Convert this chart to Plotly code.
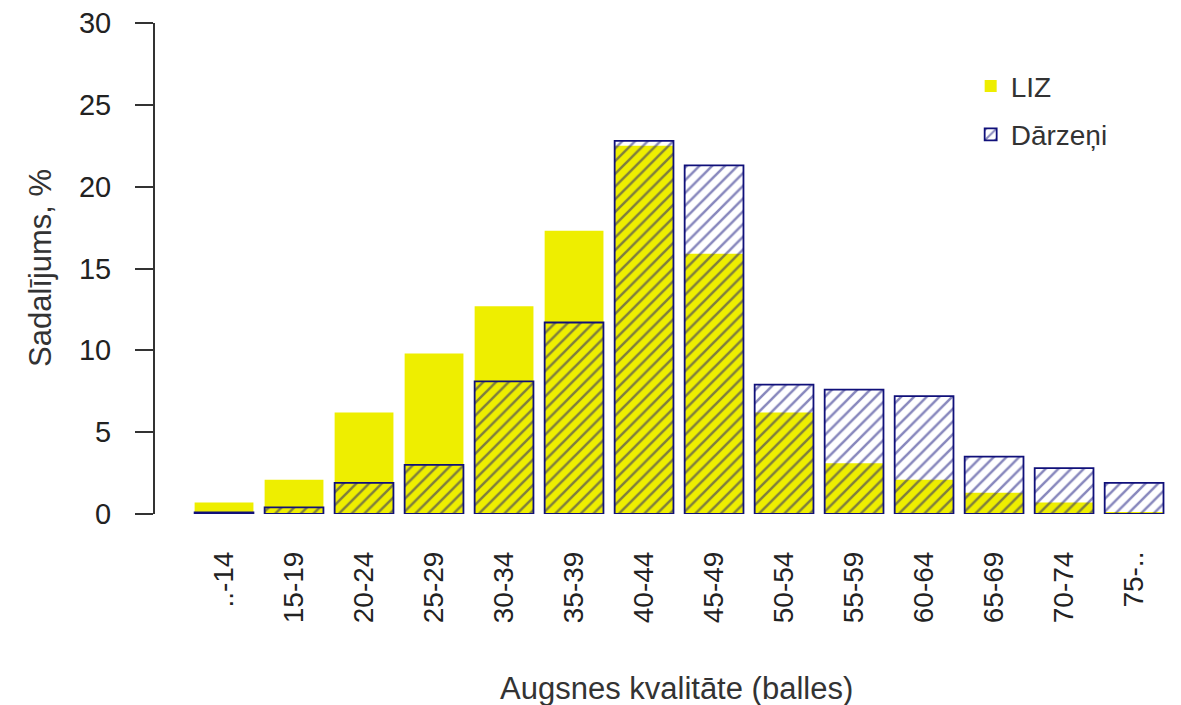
import plotly.graph_objects as go

categories = ["..-14", "15-19", "20-24", "25-29", "30-34", "35-39", "40-44",
              "45-49", "50-54", "55-59", "60-64", "65-69", "70-74", "75-.."]
liz = [0.7, 2.1, 6.2, 9.8, 12.7, 17.3, 22.5, 15.9, 6.2, 3.1, 2.1, 1.3, 0.7, 0.1]
darzeni = [0.1, 0.4, 1.9, 3.0, 8.1, 11.7, 22.8, 21.3, 7.9, 7.6, 7.2, 3.5, 2.8, 1.9]
y_ticks = [0, 5, 10, 15, 20, 25, 30]

FONT = "Arial, Liberation Sans, sans-serif"
YELLOW = "#EEEE00"
NAVY = "#10107a"

OFF = 8  # page body margin
W, H = 1181 - OFF, 705 - OFF
L, T, B = 155 - OFF, 23 - OFF, 191

fig = go.Figure()
fig.add_trace(go.Bar(
    x=categories, y=liz, name="LIZ", width=0.84,
    marker=dict(color=YELLOW, line=dict(width=0)),
    legendgroup="a",
))
fig.add_trace(go.Bar(
    x=categories, y=darzeni, name="Dārzeņi", width=0.84,
    marker=dict(color="rgba(0,0,0,0)", line=dict(color=NAVY, width=1.8),
                pattern=dict(shape="/", fgcolor=NAVY, bgcolor="rgba(0,0,0,0)",
                             size=9, solidity=0.28)),
    legendgroup="b",
))

fig.update_layout(
    width=W, height=H,
    margin=dict(l=L, r=0, t=T, b=B),
    barmode="overlay",
    plot_bgcolor="white", paper_bgcolor="white",
    font=dict(family=FONT, size=28, color="#222"),
    showlegend=True,
    legend=dict(x=0.795, y=0.922, xanchor="left", yanchor="top",
                font=dict(size=28, color="#333"), traceorder="grouped",
                tracegroupgap=9, bgcolor="rgba(0,0,0,0)"),
    xaxis=dict(
        type="category", range=[-0.986, 13.67],
        showline=False, showgrid=False, zeroline=False,
        tickangle=-90, ticks="", ticklabelstandoff=31,
        tickfont=dict(size=28, color="#222"),
    ),
    yaxis=dict(
        range=[0, 30], tickvals=y_ticks, ticktext=[str(v) for v in y_ticks],
        showline=True, linecolor="#333", linewidth=2,
        ticks="outside", ticklen=18, tickwidth=2, tickcolor="#333",
        ticklabelstandoff=18, ticklabeloverflow="allow",
        showgrid=False, zeroline=False,
        tickfont=dict(size=29, color="#222"),
    ),
    annotations=[
        dict(text="Sadalījums, %", x=(40 - 155) / 1026, y=0.501, xref="paper", yref="paper",
             textangle=-90, showarrow=False, xanchor="center", yanchor="middle",
             font=dict(size=31, color="#333")),
        dict(text="Augsnes kvalitāte (balles)", x=(676 - 155) / 1026, y=(514 - 688) / 491,
             xref="paper", yref="paper", showarrow=False,
             xanchor="center", yanchor="middle",
             font=dict(size=31, color="#333")),
    ],
)

fig.write_html("out.html")
